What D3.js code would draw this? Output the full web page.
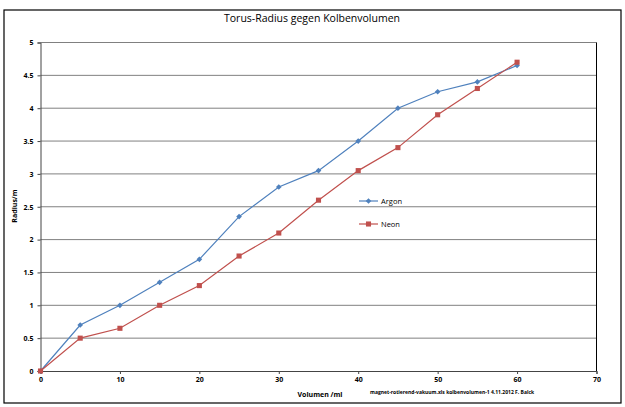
<!DOCTYPE html>
<html>
<head>
<meta charset="utf-8">
<script src="https://cdn.jsdelivr.net/npm/d3@7"></script>
<style>
  body { margin: 0; background: #fff; }
  text { font-family: "Open Sans", "Liberation Sans", sans-serif; fill: #000; }
</style>
</head>
<body>
<svg id="chart" width="625" height="407"></svg>
<script>
// Torus-Radius gegen Kolbenvolumen
const volumen = [0, 5, 10, 15, 20, 25, 30, 35, 40, 45, 50, 55, 60];
const argon = [0, 0.7, 1.0, 1.35, 1.7, 2.35, 2.8, 3.05, 3.5, 4.0, 4.25, 4.4, 4.65];
const neon = [0, 0.5, 0.65, 1.0, 1.3, 1.75, 2.1, 2.6, 3.05, 3.4, 3.9, 4.3, 4.7];
const xTicks = [0, 10, 20, 30, 40, 50, 60, 70];
const yTicks = [0, 0.5, 1, 1.5, 2, 2.5, 3, 3.5, 4, 4.5, 5];

const svg = d3.select("#chart");
const x = d3.scaleLinear().domain([0, 70]).range([40.5, 596.5]);
const y = d3.scaleLinear().domain([0, 5]).range([371, 42.5]);

// outer frame
svg.append("rect").attr("x", 4).attr("y", 10).attr("width", 617).attr("height", 393)
    .attr("fill", "none").attr("stroke", "#000").attr("stroke-width", 1.2);

svg.append("text").attr("x", 312).attr("y", 22).attr("text-anchor", "middle")
    .style("font-size", "10.5px").text("Torus-Radius gegen Kolbenvolumen");

// gridlines
svg.append("g").selectAll("line").data(yTicks.filter(d => d > 0)).join("line")
    .attr("x1", x(0)).attr("x2", x(70))
    .attr("y1", d => y(d)).attr("y2", d => y(d))
    .attr("stroke", "#808080").attr("stroke-width", 1);
svg.append("line").attr("x1", x(70)).attr("x2", x(70)).attr("y1", y(5)).attr("y2", y(0))
    .attr("stroke", "#000").attr("stroke-width", 1);

// axes
const yAxis = d3.axisLeft(y).tickValues(yTicks).tickFormat(d3.format("")).tickSize(3).tickPadding(4);
const xAxis = d3.axisBottom(x).tickValues(xTicks).tickSize(3).tickPadding(3);
const gy = svg.append("g").attr("transform", `translate(${x(0)},0)`).call(yAxis);
const gx = svg.append("g").attr("transform", `translate(0,${y(0)})`).call(xAxis);
[gx, gy].forEach(g => {
    g.selectAll(".domain").attr("stroke", "#444");
    g.selectAll(".tick line").attr("stroke", "#444");
    g.selectAll("text").style("font-size", "7px").style("font-weight", "bold");
});

svg.append("text").attr("transform", "translate(17,206) rotate(-90)").attr("text-anchor", "middle")
    .style("font-size", "7px").style("font-weight", "bold").text("Radius/m");
svg.append("text").attr("x", 320).attr("y", 397).attr("text-anchor", "middle")
    .style("font-size", "7px").style("font-weight", "bold").text("Volumen /ml");
svg.append("text").attr("x", 370).attr("y", 394)
    .style("font-size", "5px").style("font-weight", "bold")
    .text("magnet-rotierend-vakuum.xls kolbenvolumen-1 4.11.2012 F. Balck");

const series = [
    { name: "Argon", values: argon, color: "#4f81bd", rot: 45, size: 16 },
    { name: "Neon", values: neon, color: "#c0504d", rot: 0, size: 26 }
];
const line = d3.line().x((d, i) => x(volumen[i])).y(d => y(d));

series.forEach((s, k) => {
    svg.append("path").datum(s.values).attr("d", line)
        .attr("fill", "none").attr("stroke", s.color).attr("stroke-width", 1.2);
    const sym = d3.symbol().type(d3.symbolSquare).size(s.size);
    svg.append("g").selectAll("path").data(s.values).join("path")
        .attr("transform", (d, i) => `translate(${x(volumen[i])},${y(d)}) rotate(${s.rot})`)
        .attr("d", sym).attr("fill", s.color);

    // legend
    const ly = 201 + k * 23;
    svg.append("line").attr("x1", 359).attr("x2", 378).attr("y1", ly).attr("y2", ly)
        .attr("stroke", s.color).attr("stroke-width", 1.2);
    svg.append("path").attr("transform", `translate(368.5,${ly}) rotate(${s.rot})`)
        .attr("d", sym).attr("fill", s.color);
    svg.append("text").attr("x", 381).attr("y", ly + 2.5)
        .style("font-size", "7.5px").text(s.name);
});
</script>
</body>
</html>
